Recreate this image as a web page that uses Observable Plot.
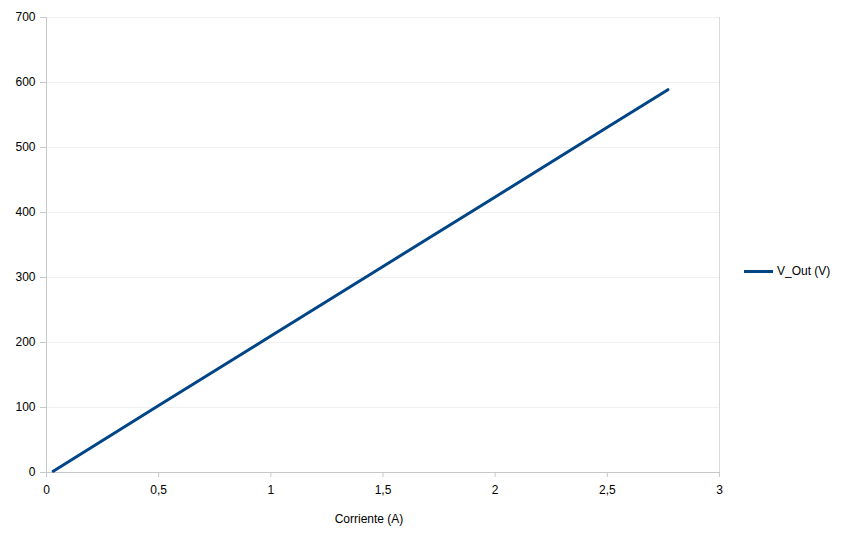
<!DOCTYPE html>
<html><head><meta charset="utf-8">
<script src="https://cdn.jsdelivr.net/npm/d3@7"></script>
<script src="https://cdn.jsdelivr.net/npm/@observablehq/plot@0.6"></script>
<style>
body{margin:0;background:#fff;font-family:"Liberation Sans",Arial,sans-serif;}
#wrap{position:relative;width:844px;height:545px;}
#legend{position:absolute;left:744px;top:264px;font-size:12px;color:#000;display:flex;align-items:center;}
#legend .sw{width:29px;height:3px;background:#004586;margin-right:4px;}
</style></head><body>
<div id="wrap"><div id="legend"><div class="sw"></div><span>V_Out (V)</span></div></div>
<script>
const corriente = [0.03, 0.5, 1, 1.5, 2, 2.5, 2.77];
const vout = [2, 103, 210, 317, 424, 531, 589];
const xTicks = [0, 0.5, 1, 1.5, 2, 2.5, 3];
const yTicks = [0, 100, 200, 300, 400, 500, 600, 700];
const seriesName = "V_Out (V)";
const xLabel = "Corriente (A)";

const data = corriente.map((c, i) => ({x: c, y: vout[i]}));
const fmt = d => String(d).replace(".", ",");

const chart = Plot.plot({
  width: 844, height: 545,
  marginLeft: 46, marginRight: 125, marginTop: 17, marginBottom: 73,
  style: {fontFamily: "Liberation Sans, Arial, sans-serif", fontSize: "12px", color: "#000", background: "#fff"},
  x: {domain: [0, 3]},
  y: {domain: [0, 700]},
  marks: [
    Plot.gridY(yTicks, {stroke: "#f0f0f0", strokeOpacity: 1}),
    Plot.ruleX([3], {stroke: "#d9d9d9"}),
    Plot.ruleY([0], {stroke: "#c8c8c8"}),
    Plot.ruleX([0], {stroke: "#c8c8c8"}),
    Plot.axisX({ticks: xTicks, tickFormat: fmt, tickSize: 5, tickPadding: 8, stroke: "#c8c8c8", label: null, fill: "#000"}),
    Plot.axisY({ticks: yTicks, tickFormat: d => String(d), tickSize: 6, tickPadding: 5, stroke: "#c8c8c8", label: null, fill: "#000"}),
    Plot.line(data, {x: "x", y: "y", stroke: "#004586", strokeWidth: 3}),
    Plot.text([xLabel], {frameAnchor: "bottom", dy: 50, dx: -14, fontSize: 12, fill: "#000"})
  ]
});
document.getElementById("wrap").prepend(chart);
</script>
</body></html>
